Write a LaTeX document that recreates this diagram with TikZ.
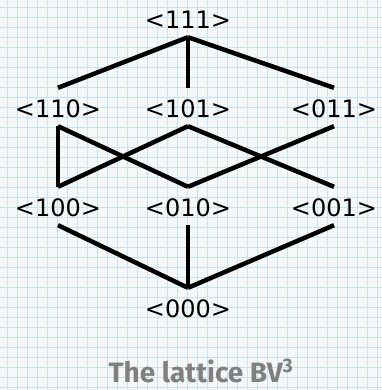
\documentclass[tikz,border=0pt]{standalone}
\usepackage{fontspec}
\setmainfont{DejaVu Sans}
\newfontfamily\capfont{Fira Sans}
\definecolor{paper}{RGB}{246,247,247}
\definecolor{gridblue}{RGB}{200,226,238}
\definecolor{capgray}{RGB}{128,128,128}
\tikzset{
	elem/.style={inner sep=0pt, text height=30pt, text depth=8pt, anchor=base, font=\fontsize{24}{28}\selectfont},
	edge/.style={black, line width=4.5pt}
}
\begin{document}
\begin{tikzpicture}[x=1pt, y=1pt]
	\useasboundingbox (0,0) rectangle (381,390);
	\fill[paper] (0,0) rectangle (381,390);
	\draw[gridblue, line width=0.6pt, xshift=7pt, yshift=3pt] (-7,-3) grid[step=10pt] (381,390);
	
	\node[elem] (n111) at (188,361) {<111>};
	
	\node[elem] (n110) at (58,272) {<110>};
	\node[elem] (n101) at (188,272) {<101>};
	\node[elem] (n011) at (334,272) {<011>};
	
	\node[elem] (n100) at (58,173) {<100>};
	\node[elem] (n010) at (188,173) {<010>};
	\node[elem] (n001) at (334,173) {<001>};
	
	\node[elem] (n000) at (188,72) {<000>};
	
	\draw[edge] (n111.south) -- (n110.north);
	\draw[edge] (n111.south) -- (n101.north);
	\draw[edge] (n111.south) -- (n011.north);
	
	\draw[edge] (n110.south) -- (n100.north);
	\draw[edge] (n110.south) -- (n010.north);
	\draw[edge] (n101.south) -- (n100.north);
	\draw[edge] (n101.south) -- (n001.north);
	\draw[edge] (n011.south) -- (n010.north);
	
	\draw[edge] (n100.south) -- (n000.north);
	\draw[edge] (n010.south) -- (n000.north);
	\draw[edge] (n001.south) -- (n000.north);
	
	\node[capgray, font=\capfont\bfseries\fontsize{28}{30}\selectfont, anchor=base, inner sep=0pt] (caption) at (201,8) {The lattice BV\textsuperscript{3}};
\end{tikzpicture}
\end{document}
